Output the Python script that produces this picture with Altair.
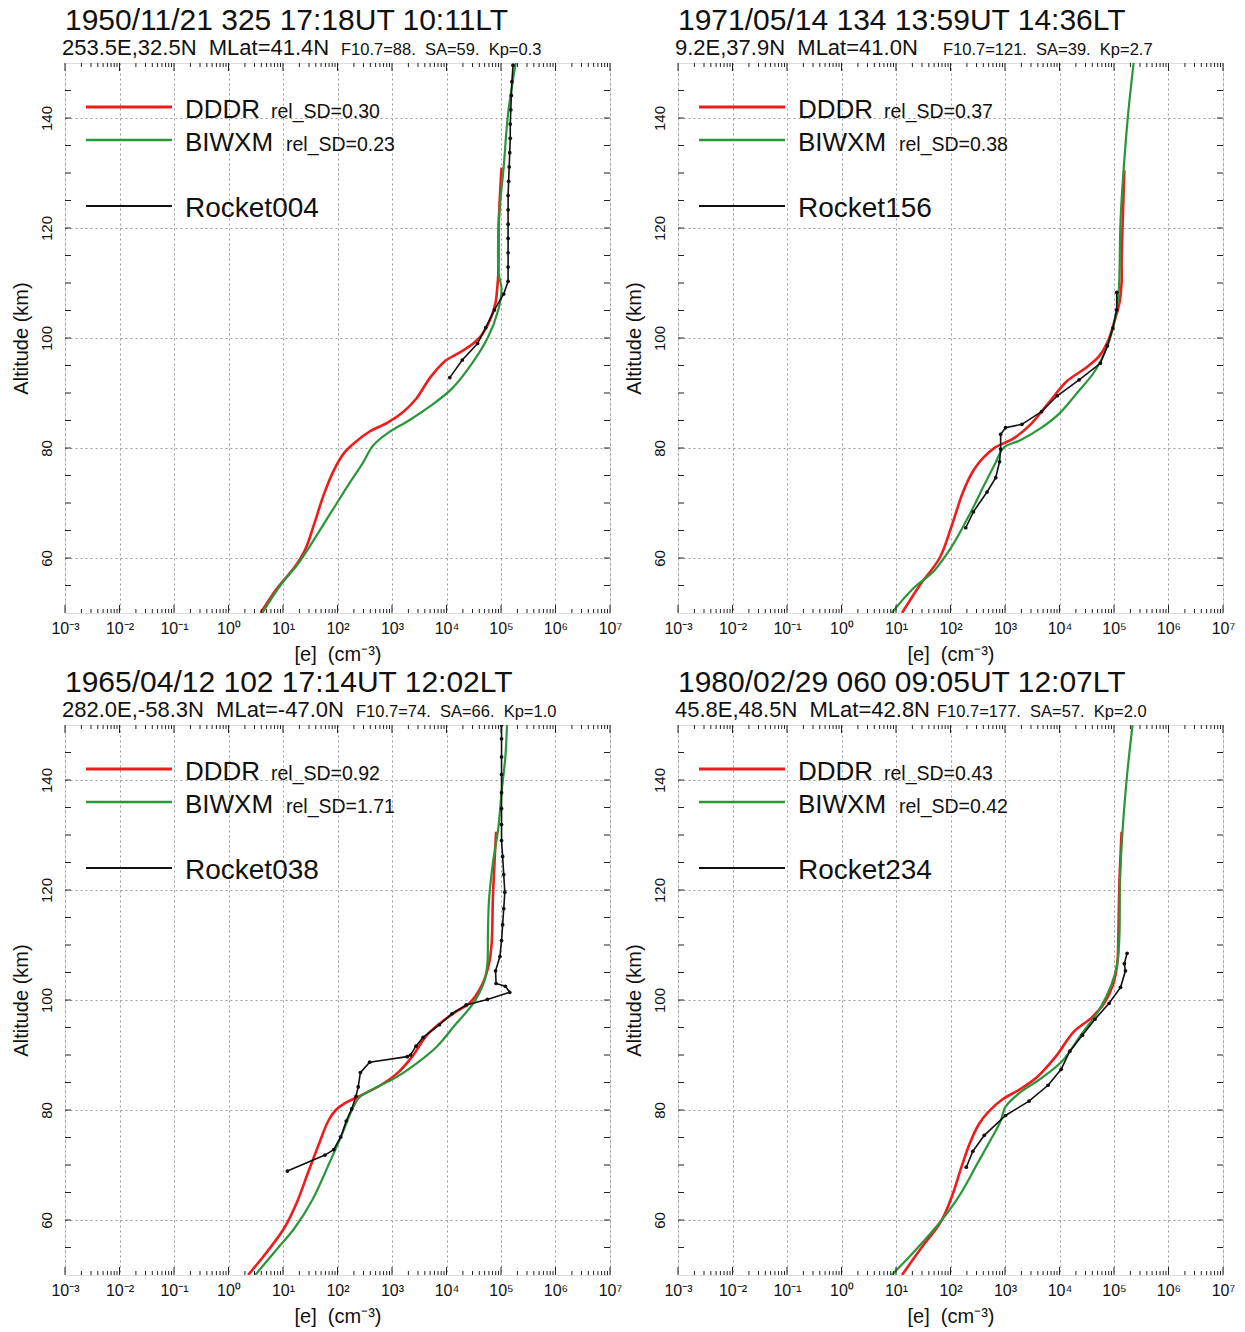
import altair as alt
import pandas as pd

FONT = "Liberation Sans"
RED = "#ee1c1c"
GREEN = "#2a963a"
BLACK = "#111111"

# ---------------- text content ----------------
TITLE_LINE = ["1950/11/21 325 17:18UT 10:11LT", "1971/05/14 134 13:59UT 14:36LT",
              "1965/04/12 102 17:14UT 12:02LT", "1980/02/29 060 09:05UT 12:07LT"]
LOCATION = ["253.5E,32.5N\u00a0 MLat=41.4N", "9.2E,37.9N\u00a0 MLat=41.0N",
            "282.0E,-58.3N\u00a0 MLat=-47.0N", "45.8E,48.5N\u00a0 MLat=42.8N"]
INDICES = ["F10.7=88.\u00a0 SA=59.\u00a0 Kp=0.3", "F10.7=121.\u00a0 SA=39.\u00a0 Kp=2.7",
           "F10.7=74.\u00a0 SA=66.\u00a0 Kp=1.0", "F10.7=177.\u00a0 SA=57.\u00a0 Kp=2.0"]
INDICES_X = [276, 265, 291, 259]
DDDR_SD = ["0.30", "0.37", "0.92", "0.43"]
BIWXM_SD = ["0.23", "0.38", "1.71", "0.42"]
ROCKET = ["Rocket004", "Rocket156", "Rocket038", "Rocket234"]

X_TICK_LABELS = ["10\u207b\u00b3", "10\u207b\u00b2", "10\u207b\u00b9", "10\u2070", "10\u00b9",
                 "10\u00b2", "10\u00b3", "10\u2074", "10\u2075", "10\u2076", "10\u2077"]
X_TITLE = "[e]\u00a0 (cm\u207b\u00b3)"
Y_TITLE = "Altitude (km)"

# ---------------- profiles: altitude (km) and log10 electron density (cm^-3) ----------------
P1_DDDR_ALT = [50, 54.4, 58.3, 61.6, 66.1, 71.3, 75.9, 79.2, 81.1, 83.0, 84.6, 86.6, 88.9, 92.8,
               95.7, 97.3, 99.0, 100.6, 103.8, 106.4, 109.0, 111.6, 121.3, 131.0]
P1_DDDR_LG = [0.59, 0.885, 1.21, 1.41, 1.57, 1.74, 1.93, 2.13, 2.33, 2.59, 2.92, 3.21, 3.44, 3.70,
              3.96, 4.23, 4.49, 4.65, 4.82, 4.90, 4.93, 4.95, 4.96, 5.01]
P1_BIWXM_ALT = [50, 55.0, 59.0, 62.9, 68.1, 73.3, 77.2, 80.4, 82.7, 85.0, 87.6, 90.8, 94.7, 99.9,
                105.1, 109.0, 111.6, 121.3, 131.1, 140.8, 150]
P1_BIWXM_LG = [0.62, 0.95, 1.28, 1.54, 1.87, 2.20, 2.46, 2.65, 2.92, 3.31, 3.70, 4.10, 4.42, 4.75,
               4.95, 5.01, 4.96, 4.96, 5.05, 5.13, 5.27]
P1_ROCKET_ALT = [92.8, 96.0, 99.0, 101.9, 105.1, 108.0, 110.3, 112.9, 115.5, 118.1, 120.7, 123.3,
                 125.9, 128.5, 131.1, 133.7, 136.3, 138.9, 141.5, 144.1, 146.6, 149.6]
P1_ROCKET_LG = [4.06, 4.29, 4.57, 4.72, 4.88, 5.05, 5.13, 5.13, 5.13, 5.13, 5.13, 5.13,
                5.13, 5.14, 5.15, 5.16, 5.17, 5.17, 5.18, 5.19, 5.20, 5.22]

P2_DDDR_ALT = [50, 55.1, 60.0, 66.1, 72.0, 75.9, 78.1, 80.1, 81.7, 84.3, 88.2, 92.1, 94.4, 96.6,
               99.2, 103.1, 106.4, 110.3, 114.2, 121.3, 130.5]
P2_DDDR_LG = [1.11, 1.44, 1.80, 2.03, 2.23, 2.42, 2.59, 2.82, 3.15, 3.47, 3.80, 4.13, 4.46, 4.72,
              4.88, 5.01, 5.10, 5.14, 5.14, 5.16, 5.19]
P2_BIWXM_ALT = [50, 54.4, 57.7, 62.2, 68.1, 73.3, 77.2, 80.1, 81.4, 83.7, 86.3, 90.1, 94.0, 98.6,
                103.1, 107.7, 111.6, 121.3, 131.1, 140.8, 150]
P2_BIWXM_LG = [0.92, 1.31, 1.70, 2.03, 2.36, 2.62, 2.82, 2.98, 3.28, 3.67, 4.00, 4.33, 4.65, 4.88,
               5.01, 5.08, 5.10, 5.12, 5.18, 5.26, 5.36]
P2_ROCKET_ALT = [65.5, 68.4, 72.0, 74.6, 77.5, 79.8, 82.5, 83.7, 84.3, 86.6, 89.5, 92.4, 95.4,
                 98.6, 101.8, 105.1, 108.3]
P2_ROCKET_LG = [2.28, 2.42, 2.67, 2.83, 2.90, 2.92, 2.92, 3.01, 3.31, 3.67, 3.96, 4.36, 4.75,
                4.88, 4.98, 5.05, 5.05]

P3_DDDR_ALT = [50, 54.0, 58.5, 63.1, 68.9, 74.1, 78.0, 80.0, 81.2, 82.8, 84.5, 86.8, 89.7, 93.6,
               95.9, 97.8, 99.4, 102.7, 106.6, 110.5, 118.2, 124.8, 130.6]
P3_DDDR_LG = [0.36, 0.69, 1.02, 1.25, 1.47, 1.67, 1.83, 1.97, 2.13, 2.46, 2.79, 3.11, 3.37, 3.64,
              3.90, 4.16, 4.42, 4.65, 4.78, 4.83, 4.85, 4.88, 4.91]
P3_BIWXM_ALT = [50, 54.6, 58.5, 63.7, 70.8, 76.0, 79.9, 82.2, 83.8, 85.8, 88.4, 91.6, 95.5, 99.4,
                103.3, 106.6, 111.8, 118.2, 124.8, 131.2, 137.7, 144.2, 150]
P3_BIWXM_LG = [0.49, 0.88, 1.21, 1.54, 1.87, 2.10, 2.26, 2.39, 2.65, 3.05, 3.44, 3.83, 4.16, 4.49,
               4.69, 4.75, 4.76, 4.78, 4.85, 4.95, 5.01, 5.08, 5.11]
P3_ROCKET_ALT = [68.9, 71.8, 72.8, 75.1, 78.0, 80.2, 82.5, 84.2, 86.8, 88.7, 89.7, 90.0, 91.6,
                 93.2, 95.5, 97.5, 99.1, 100.1, 101.4, 102.5, 103.0, 105.3, 107.9, 110.8, 113.7,
                 116.6, 119.6, 122.8, 126.1, 129.0, 131.9, 134.8, 137.7, 141.0, 144.2, 147.5, 150]
P3_ROCKET_LG = [1.08, 1.77, 1.93, 2.06, 2.16, 2.26, 2.34, 2.38, 2.42, 2.59, 3.28, 3.34, 3.44,
                3.57, 3.87, 4.10, 4.36, 4.75, 5.16, 5.08, 4.91, 4.90, 4.98, 5.01, 5.03,
                5.05, 5.07, 5.05, 5.03, 5.01, 5.01, 5.01, 5.01, 5.01, 5.01, 5.01, 5.01]

P4_DDDR_ALT = [50, 54.6, 59.8, 64.4, 69.6, 74.1, 77.4, 79.6, 81.9, 83.8, 86.1, 89.7, 94.2, 96.8,
               99.4, 102.7, 106.6, 111.8, 121.5, 130.6]
P4_DDDR_LG = [1.11, 1.44, 1.83, 2.03, 2.20, 2.36, 2.52, 2.69, 2.95, 3.28, 3.60, 3.93, 4.26, 4.59,
              4.82, 4.98, 5.06, 5.08, 5.10, 5.14]
P4_BIWXM_ALT = [50, 54.0, 59.5, 64.4, 70.2, 74.8, 78.0, 80.6, 83.2, 85.8, 89.0, 93.6, 98.1, 102.7,
                106.6, 111.8, 121.5, 131.2, 140.9, 150]
P4_BIWXM_LG = [0.92, 1.31, 1.80, 2.16, 2.49, 2.75, 2.92, 3.01, 3.28, 3.67, 4.06, 4.39, 4.72, 4.95,
               5.06, 5.10, 5.11, 5.16, 5.24, 5.34]
P4_ROCKET_ALT = [69.6, 72.5, 75.4, 79.0, 81.6, 84.5, 87.4, 90.7, 93.6, 96.5, 99.4, 102.3, 105.3,
                 106.6, 108.5]
P4_ROCKET_LG = [2.29, 2.41, 2.62, 3.01, 3.44, 3.79, 4.03, 4.19, 4.42, 4.65, 4.91, 5.12, 5.21,
                5.19, 5.24]

PANELS = [
    {"DDDR": (P1_DDDR_ALT, P1_DDDR_LG), "BIWXM": (P1_BIWXM_ALT, P1_BIWXM_LG), "Rocket": (P1_ROCKET_ALT, P1_ROCKET_LG)},
    {"DDDR": (P2_DDDR_ALT, P2_DDDR_LG), "BIWXM": (P2_BIWXM_ALT, P2_BIWXM_LG), "Rocket": (P2_ROCKET_ALT, P2_ROCKET_LG)},
    {"DDDR": (P3_DDDR_ALT, P3_DDDR_LG), "BIWXM": (P3_BIWXM_ALT, P3_BIWXM_LG), "Rocket": (P3_ROCKET_ALT, P3_ROCKET_LG)},
    {"DDDR": (P4_DDDR_ALT, P4_DDDR_LG), "BIWXM": (P4_BIWXM_ALT, P4_BIWXM_LG), "Rocket": (P4_ROCKET_ALT, P4_ROCKET_LG)},
]

# ---------------- axes ----------------
DECADES = [1e-3, 1e-2, 1e-1, 1e0, 1e1, 1e2, 1e3, 1e4, 1e5, 1e6, 1e7]
X_MINOR = [m * d for d in DECADES[:-1] for m in range(2, 10)]
Y_LABELED = [60, 80, 100, 120, 140]
Y_TICKS = list(range(55, 150, 5))

W, H = 545, 550
XS = alt.Scale(type="log", domain=[1e-3, 1e7], nice=False)
YS = alt.Scale(domain=[50, 150], nice=False, zero=False)

LABEL_EXPR = "[" + ",".join("'%s'" % s for s in X_TICK_LABELS) + "][round(log(datum.value)/LN10)+3]"

X_AXIS = alt.Axis(values=DECADES, labelExpr=LABEL_EXPR, title=X_TITLE, grid=True,
                  gridDash=[2, 3], gridColor="#9a9a9a", gridWidth=1, ticks=False, domain=False,
                  labelFlush=False, labelOverlap=False, labelFont=FONT, labelFontSize=16,
                  labelColor="#111", labelPadding=7, titleFont=FONT, titleFontSize=20,
                  titleFontWeight="normal", titleColor="#111", titlePadding=8)
Y_AXIS = alt.Axis(values=Y_LABELED, title=Y_TITLE, grid=True, gridDash=[2, 3],
                  gridColor="#9a9a9a", gridWidth=1, ticks=False, domain=False,
                  labelAngle=-90, labelAlign="center", labelBaseline="middle",
                  labelFont=FONT, labelFontSize=15, labelColor="#111", labelPadding=19,
                  titleFont=FONT, titleFontSize=20, titleFontWeight="normal",
                  titleColor="#111", titlePadding=8)

ONE = pd.DataFrame({"k": [0]})


def curves_frame(p):
    rows = []
    for name, (alts, lgs) in p.items():
        for k, (a, l) in enumerate(zip(alts, lgs)):
            rows.append({"series": name, "alt": a, "lg": l, "order": k})
    return pd.DataFrame(rows)


def tick_layers():
    layers = []
    xmaj = pd.DataFrame({"ne": DECADES})
    xmin = pd.DataFrame({"ne": X_MINOR})
    for df, ln in [(xmin, 4), (xmaj, 8)]:
        layers.append(alt.Chart(df).mark_rule(color="#222", strokeWidth=1).encode(
            x=alt.X("ne:Q", scale=XS, axis=X_AXIS), y=alt.value(H), y2=alt.value(H - ln)))
        layers.append(alt.Chart(df).mark_rule(color="#222", strokeWidth=1).encode(
            x=alt.X("ne:Q", scale=XS, axis=X_AXIS), y=alt.value(0), y2=alt.value(ln)))
    ydf = pd.DataFrame({"alt": Y_TICKS})
    layers.append(alt.Chart(ydf).mark_rule(color="#222", strokeWidth=1).encode(
        y=alt.Y("alt:Q", scale=YS, axis=Y_AXIS), x=alt.value(0), x2=alt.value(6)))
    layers.append(alt.Chart(ydf).mark_rule(color="#222", strokeWidth=1).encode(
        y=alt.Y("alt:Q", scale=YS, axis=Y_AXIS), x=alt.value(W), x2=alt.value(W - 6)))
    return layers


def txt(text, x, y, size, align="left", baseline="alphabetic"):
    return alt.Chart(ONE).mark_text(text=text, align=align, baseline=baseline, fontSize=size,
                                    font=FONT, color="#111").encode(x=alt.value(x), y=alt.value(y))


def legend_line(color, y, width):
    return alt.Chart(ONE).mark_rule(color=color, strokeWidth=width).encode(
        x=alt.value(21), x2=alt.value(107), y=alt.value(y))


def panel(i):
    df = curves_frame(PANELS[i])
    base = alt.Chart(df).transform_calculate(ne="pow(10, datum.lg)")
    enc = dict(x=alt.X("ne:Q", scale=XS, axis=X_AXIS), y=alt.Y("alt:Q", scale=YS, axis=Y_AXIS),
               order="order:Q")
    red = base.transform_filter(alt.datum.series == "DDDR").mark_line(
        color=RED, strokeWidth=2.6, clip=True, interpolate="catmull-rom").encode(**enc)
    green = base.transform_filter(alt.datum.series == "BIWXM").mark_line(
        color=GREEN, strokeWidth=2.2, clip=True, interpolate="catmull-rom").encode(**enc)
    black = base.transform_filter(alt.datum.series == "Rocket").mark_line(
        color=BLACK, strokeWidth=1.6, clip=True,
        point=alt.OverlayMarkDef(filled=True, size=14, color=BLACK)).encode(**enc)
    legend = [
        legend_line(RED, 44, 2.8), legend_line(GREEN, 77, 2.4), legend_line(BLACK, 143, 2.0),
        txt("DDDR", 120, 55, 26), txt("rel_SD=" + DDDR_SD[i], 206, 55, 19.5),
        txt("BIWXM", 120, 88, 26), txt("rel_SD=" + BIWXM_SD[i], 221, 88, 19.5),
        txt(ROCKET[i], 120, 154, 28),
    ]
    titles = [txt(TITLE_LINE[i], 0, -33, 30), txt(LOCATION[i], -3, -8, 22),
              txt(INDICES[i], INDICES_X[i], -8, 16.5)]
    return alt.layer(red, green, black, *tick_layers(), *legend, *titles).properties(
        width=W, height=H)


top = alt.hconcat(panel(0), panel(1), spacing=0)
bottom = alt.hconcat(panel(2), panel(3), spacing=0)
chart = alt.vconcat(top, bottom, spacing=2).properties(
    padding={"left": 10, "top": 5, "right": 0, "bottom": 0}, background="white"
).configure_view(stroke="black", strokeWidth=1).configure(font=FONT)

chart.save("out.html", embed_options={"renderer": "svg", "actions": False})
